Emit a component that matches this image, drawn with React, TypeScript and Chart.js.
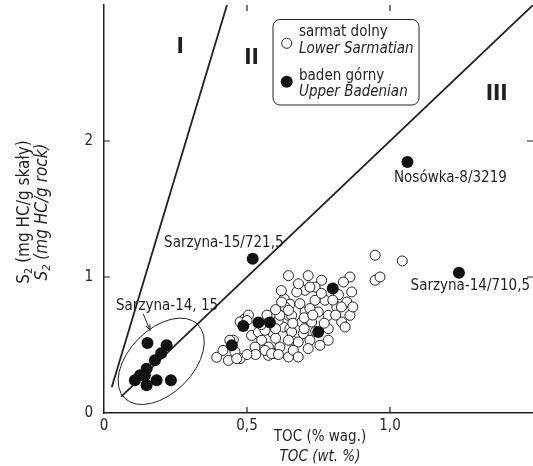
import React, { useEffect, useRef } from 'react';
import { Chart, registerables } from 'chart.js';
Chart.register(...registerables);

const FONT = "'Liberation Sans Narrow', 'DejaVu Sans Condensed', 'Arial Narrow', sans-serif";
const INK = '#231f20';

// Axis ticks
const xTicks = [0, 0.5, 1.0];
const xTickLabels = ['0', '0,5', '1,0'];
const yTicks = [0, 1, 2];
const yTickLabels = ['0', '1', '2'];

// Lower Sarmatian (open circles): TOC, S2
const sarmatTOC = [
  0.948, 1.043, 0.948, 0.965,
  0.645, 0.63, 0.65, 0.493, 0.476, 0.505, 0.516, 0.54, 0.551, 0.528, 0.575, 0.598, 0.575, 0.615, 0.627, 0.609, 0.645, 0.656, 0.592, 0.476, 0.452, 0.645, 0.65, 0.563,
  0.714, 0.86, 0.761, 0.837, 0.738, 0.866, 0.703, 0.674, 0.849, 0.773, 0.738, 0.685, 0.814, 0.86, 0.703, 0.749, 0.784, 0.831, 0.656, 0.691, 0.726, 0.784, 0.843, 0.656, 0.697, 0.784, 0.679, 0.72, 0.755, 0.714, 0.662, 0.679, 0.645, 0.633,
  0.394, 0.435, 0.458, 0.44, 0.464, 0.563, 0.586, 0.72, 0.621, 0.645, 0.615, 0.72, 0.5,
  0.416, 0.6, 0.55, 0.57, 0.6, 0.82, 0.8, 0.76, 0.7, 0.74, 0.77, 0.81, 0.83, 0.87, 0.62, 0.68, 0.6, 0.53, 0.5, 0.61, 0.7, 0.73, 0.66,
];
const sarmatS2 = [
  1.16, 1.118, 0.976, 1.0,
  1.01, 0.84, 0.8, 0.694, 0.67, 0.72, 0.57, 0.595, 0.535, 0.485, 0.485, 0.437, 0.424, 0.485, 0.632, 0.68, 0.718, 0.535, 0.584, 0.4, 0.535, 0.412, 0.62, 0.608,
  1.01, 1.0, 0.976, 0.963, 0.926, 0.89, 0.902, 0.89, 0.816, 0.829, 0.829, 0.804, 0.78, 0.718, 0.743, 0.743, 0.718, 0.669, 0.718, 0.669, 0.669, 0.62, 0.632, 0.596, 0.584, 0.535, 0.522, 0.535, 0.498, 0.474, 0.461, 0.412, 0.535, 0.78,
  0.41, 0.387, 0.45, 0.535, 0.4, 0.46, 0.437, 0.926, 0.816, 0.755, 0.718, 0.768, 0.68,
  0.46, 0.55, 0.65, 0.72, 0.76, 0.87, 0.83, 0.88, 0.62, 0.6, 0.66, 0.72, 0.78, 0.78, 0.9, 0.95, 0.62, 0.43, 0.43, 0.43, 0.7, 0.72, 0.66,
];

// Upper Badenian (filled circles)
const badenTOC = [
  1.061, 1.241, 0.52, 0.487, 0.54, 0.58, 0.447, 0.749, 0.80,
  0.152, 0.178, 0.2, 0.219, 0.108, 0.149, 0.184, 0.149, 0.126, 0.143, 0.234,
];
const badenS2 = [
  1.846, 1.032, 1.135, 0.64, 0.665, 0.665, 0.498, 0.596, 0.915,
  0.515, 0.388, 0.44, 0.498, 0.24, 0.326, 0.24, 0.204, 0.277, 0.277, 0.24,
];

// Kerogen type boundary lines
const lineI = [{ x: 0.027, y: 0.19 }, { x: 0.43, y: 3.0 }];
const lineIII = [{ x: 0.06, y: 0.12 }, { x: 1.5, y: 3.0 }];

// Sample annotations [text, TOC, S2]
const sampleLabels: [string, number, number][] = [
  ['Sarzyna-15/721,5', 0.21, 1.247],
  ['Nosówka-8/3219', 1.014, 1.725],
  ['Sarzyna-14/710,5', 1.072, 0.932],
  ['Sarzyna-14, 15', 0.042, 0.784],
];
const typeLabels: [string, number, number][] = [
  ['I', 0.266, 2.689],
  ['II', 0.516, 2.606],
  ['III', 1.373, 2.341],
];
const ellipseCenter = { x: 0.2, y: 0.38 };
const ellipseTip = { x: 0.328, y: 0.651 };
const arrowFrom = { x: 0.137, y: 0.731 };
const arrowTo = { x: 0.161, y: 0.608 };

function drawS2(ctx: CanvasRenderingContext2D, rest: string, font: string, subFont: string, cx: number, cy: number) {
  ctx.font = font;
  const wS = ctx.measureText('S').width;
  const wR = ctx.measureText(rest).width;
  ctx.font = subFont;
  const w2 = ctx.measureText('2').width;
  const total = wS + w2 + wR;
  let x = cx - total / 2;
  ctx.textAlign = 'left';
  ctx.textBaseline = 'alphabetic';
  ctx.font = font;
  ctx.fillText('S', x, cy);
  x += wS;
  ctx.font = subFont;
  ctx.fillText('2', x, cy + 3);
  x += w2;
  ctx.font = font;
  ctx.fillText(rest, x, cy);
}

const decorPlugin = {
  id: 'decor',
  beforeDatasetsDraw(chart: any) {
    const { ctx, scales } = chart;
    const xs = scales.x, ys = scales.y;
    const cx = xs.getPixelForValue(ellipseCenter.x), cy = ys.getPixelForValue(ellipseCenter.y);
    const tx = xs.getPixelForValue(ellipseTip.x), ty = ys.getPixelForValue(ellipseTip.y);
    const a = Math.hypot(tx - cx, ty - cy);
    const ang = Math.atan2(ty - cy, tx - cx);
    ctx.save();
    ctx.strokeStyle = INK;
    ctx.lineWidth = 1;
    ctx.beginPath();
    ctx.ellipse(cx, cy, a, 32, ang, 0, Math.PI * 2);
    ctx.stroke();
    ctx.restore();
  },
  afterDatasetsDraw(chart: any) {
    const { ctx, scales, chartArea } = chart;
    const xs = scales.x, ys = scales.y;
    ctx.save();
    ctx.fillStyle = INK;
    ctx.textBaseline = 'middle';
    ctx.textAlign = 'left';
    ctx.font = `15px ${FONT}`;
    for (const [t, x, y] of sampleLabels) {
      ctx.fillText(t, xs.getPixelForValue(x), ys.getPixelForValue(y));
    }
    ctx.font = `bold 22px ${FONT}`;
    ctx.textAlign = 'center';
    for (const [t, x, y] of typeLabels) {
      ctx.fillText(t, xs.getPixelForValue(x), ys.getPixelForValue(y));
    }
    // arrow
    const ax = xs.getPixelForValue(arrowFrom.x), ay = ys.getPixelForValue(arrowFrom.y);
    const bx = xs.getPixelForValue(arrowTo.x), by = ys.getPixelForValue(arrowTo.y);
    ctx.strokeStyle = INK;
    ctx.lineWidth = 1;
    ctx.beginPath();
    ctx.moveTo(ax, ay);
    ctx.lineTo(bx, by);
    ctx.stroke();
    const ang = Math.atan2(by - ay, bx - ax);
    ctx.beginPath();
    ctx.moveTo(bx - 6 * Math.cos(ang - 0.35), by - 6 * Math.sin(ang - 0.35));
    ctx.lineTo(bx, by);
    ctx.lineTo(bx - 6 * Math.cos(ang + 0.35), by - 6 * Math.sin(ang + 0.35));
    ctx.stroke();

    // inward tick marks
    ctx.lineWidth = 1.2;
    ctx.beginPath();
    for (const v of [0.5, 1.0]) {
      const px = xs.getPixelForValue(v);
      ctx.moveTo(px, chartArea.bottom); ctx.lineTo(px, chartArea.bottom - 6);
      ctx.moveTo(px, chartArea.top); ctx.lineTo(px, chartArea.top + 6);
    }
    for (const v of [1, 2]) {
      const py = ys.getPixelForValue(v);
      ctx.moveTo(chartArea.left, py); ctx.lineTo(chartArea.left + 6, py);
      ctx.moveTo(chartArea.right, py); ctx.lineTo(chartArea.right - 6, py);
    }
    ctx.stroke();

    // legend box
    const L = 273, T = 19.5, W = 146, H = 85.5, r = 7;
    ctx.fillStyle = '#ffffff';
    ctx.strokeStyle = INK;
    ctx.lineWidth = 1;
    ctx.beginPath();
    ctx.roundRect(L, T, W, H, r);
    ctx.fill();
    ctx.stroke();
    ctx.beginPath();
    ctx.arc(286.7, 43.3, 5, 0, Math.PI * 2);
    ctx.fillStyle = '#fff';
    ctx.fill();
    ctx.stroke();
    ctx.beginPath();
    ctx.arc(286.7, 81.7, 6, 0, Math.PI * 2);
    ctx.fillStyle = '#111';
    ctx.fill();
    ctx.fillStyle = INK;
    ctx.textAlign = 'left';
    ctx.textBaseline = 'middle';
    ctx.font = `15px ${FONT}`;
    ctx.fillText('sarmat dolny', 299, 32);
    ctx.fillText('baden górny', 299, 76);
    ctx.font = `italic 15px ${FONT}`;
    ctx.fillText('Lower Sarmatian', 299, 49.5);
    ctx.fillText('Upper Badenian', 299, 92);

    // axis titles
    ctx.textAlign = 'center';
    ctx.font = `15px ${FONT}`;
    ctx.fillText('TOC (% wag.)', 320, 437);
    ctx.font = `italic 15px ${FONT}`;
    ctx.fillText('TOC (wt. %)', 320, 457);

    ctx.save();
    ctx.rotate(-Math.PI / 2);
    // rotated frame: x' = -y, y' = x
    drawS2(ctx, ' (mg HC/g skały)', `17px ${FONT}`, `11px ${FONT}`, -212, 29);
    drawS2(ctx, ' (mg HC/g rock)', `italic 17px ${FONT}`, `italic 11px ${FONT}`, -212, 47);
    ctx.restore();
    ctx.restore();
  },
};

export default function App() {
  const ref = useRef<HTMLCanvasElement>(null);
  useEffect(() => {
    if (!ref.current) return;
    const sarmat = sarmatTOC.map((x, i) => ({ x, y: sarmatS2[i] }));
    const baden = badenTOC.map((x, i) => ({ x, y: badenS2[i] }));
    const chart = new Chart(ref.current, {
      type: 'scatter',
      data: {
        datasets: [
          {
            label: 'baden górny / Upper Badenian',
            data: baden,
            pointRadius: 6,
            pointBackgroundColor: '#111',
            pointBorderColor: '#111',
            pointBorderWidth: 0,
            order: 0,
          },
          {
            label: 'sarmat dolny / Lower Sarmatian',
            data: sarmat,
            pointRadius: 5,
            pointBackgroundColor: '#fff',
            pointBorderColor: INK,
            pointBorderWidth: 1,
            order: 1,
          },
          {
            type: 'line',
            label: 'I',
            data: lineI,
            showLine: true,
            pointRadius: 0,
            borderColor: INK,
            borderWidth: 1.8,
            order: 2,
          },
          {
            type: 'line',
            label: 'II/III',
            data: lineIII,
            showLine: true,
            pointRadius: 0,
            borderColor: INK,
            borderWidth: 1.8,
            order: 2,
          },
        ],
      } as any,
      options: {
        animation: false,
        responsive: false,
        events: [],
        layout: { autoPadding: false, padding: { top: 5, right: 0, left: 0, bottom: 0 } },
        plugins: { legend: { display: false }, tooltip: { enabled: false } },
        scales: {
          x: {
            type: 'linear',
            min: 0,
            max: 1.5,
            grid: { display: false, drawTicks: false },
            border: { display: true, color: INK, width: 1.5 },
            afterBuildTicks: (s: any) => { s.ticks = xTicks.map((v) => ({ value: v })); },
            afterFit: (s: any) => { s.height = 53; s.paddingLeft = 0; s.paddingRight = 0; },
            ticks: {
              autoSkip: false,
              maxRotation: 0,
              padding: 4,
              color: INK,
              font: { family: FONT, size: 15 },
              callback: (v: any) => xTickLabels[xTicks.indexOf(Number(v))] ?? '',
            },
          },
          y: {
            type: 'linear',
            min: 0,
            max: 3,
            grid: { display: false, drawTicks: false },
            border: { display: true, color: INK, width: 1.5 },
            afterBuildTicks: (s: any) => { s.ticks = yTicks.map((v) => ({ value: v })); },
            afterFit: (s: any) => { s.width = 104; s.paddingTop = 0; s.paddingBottom = 0; },
            ticks: {
              autoSkip: false,
              padding: 11,
              color: INK,
              font: { family: FONT, size: 15 },
              callback: (v: any) => yTickLabels[yTicks.indexOf(Number(v))] ?? '',
            },
          },
        },
      },
      plugins: [decorPlugin],
    } as any);
    return () => chart.destroy();
  }, []);
  return (
    <div style={{ position: 'fixed', left: 0, top: 0, width: 533, height: 466, background: '#fff' }}>
      <canvas ref={ref} width={533} height={466} style={{ width: 533, height: 466, display: 'block' }} />
    </div>
  );
}
